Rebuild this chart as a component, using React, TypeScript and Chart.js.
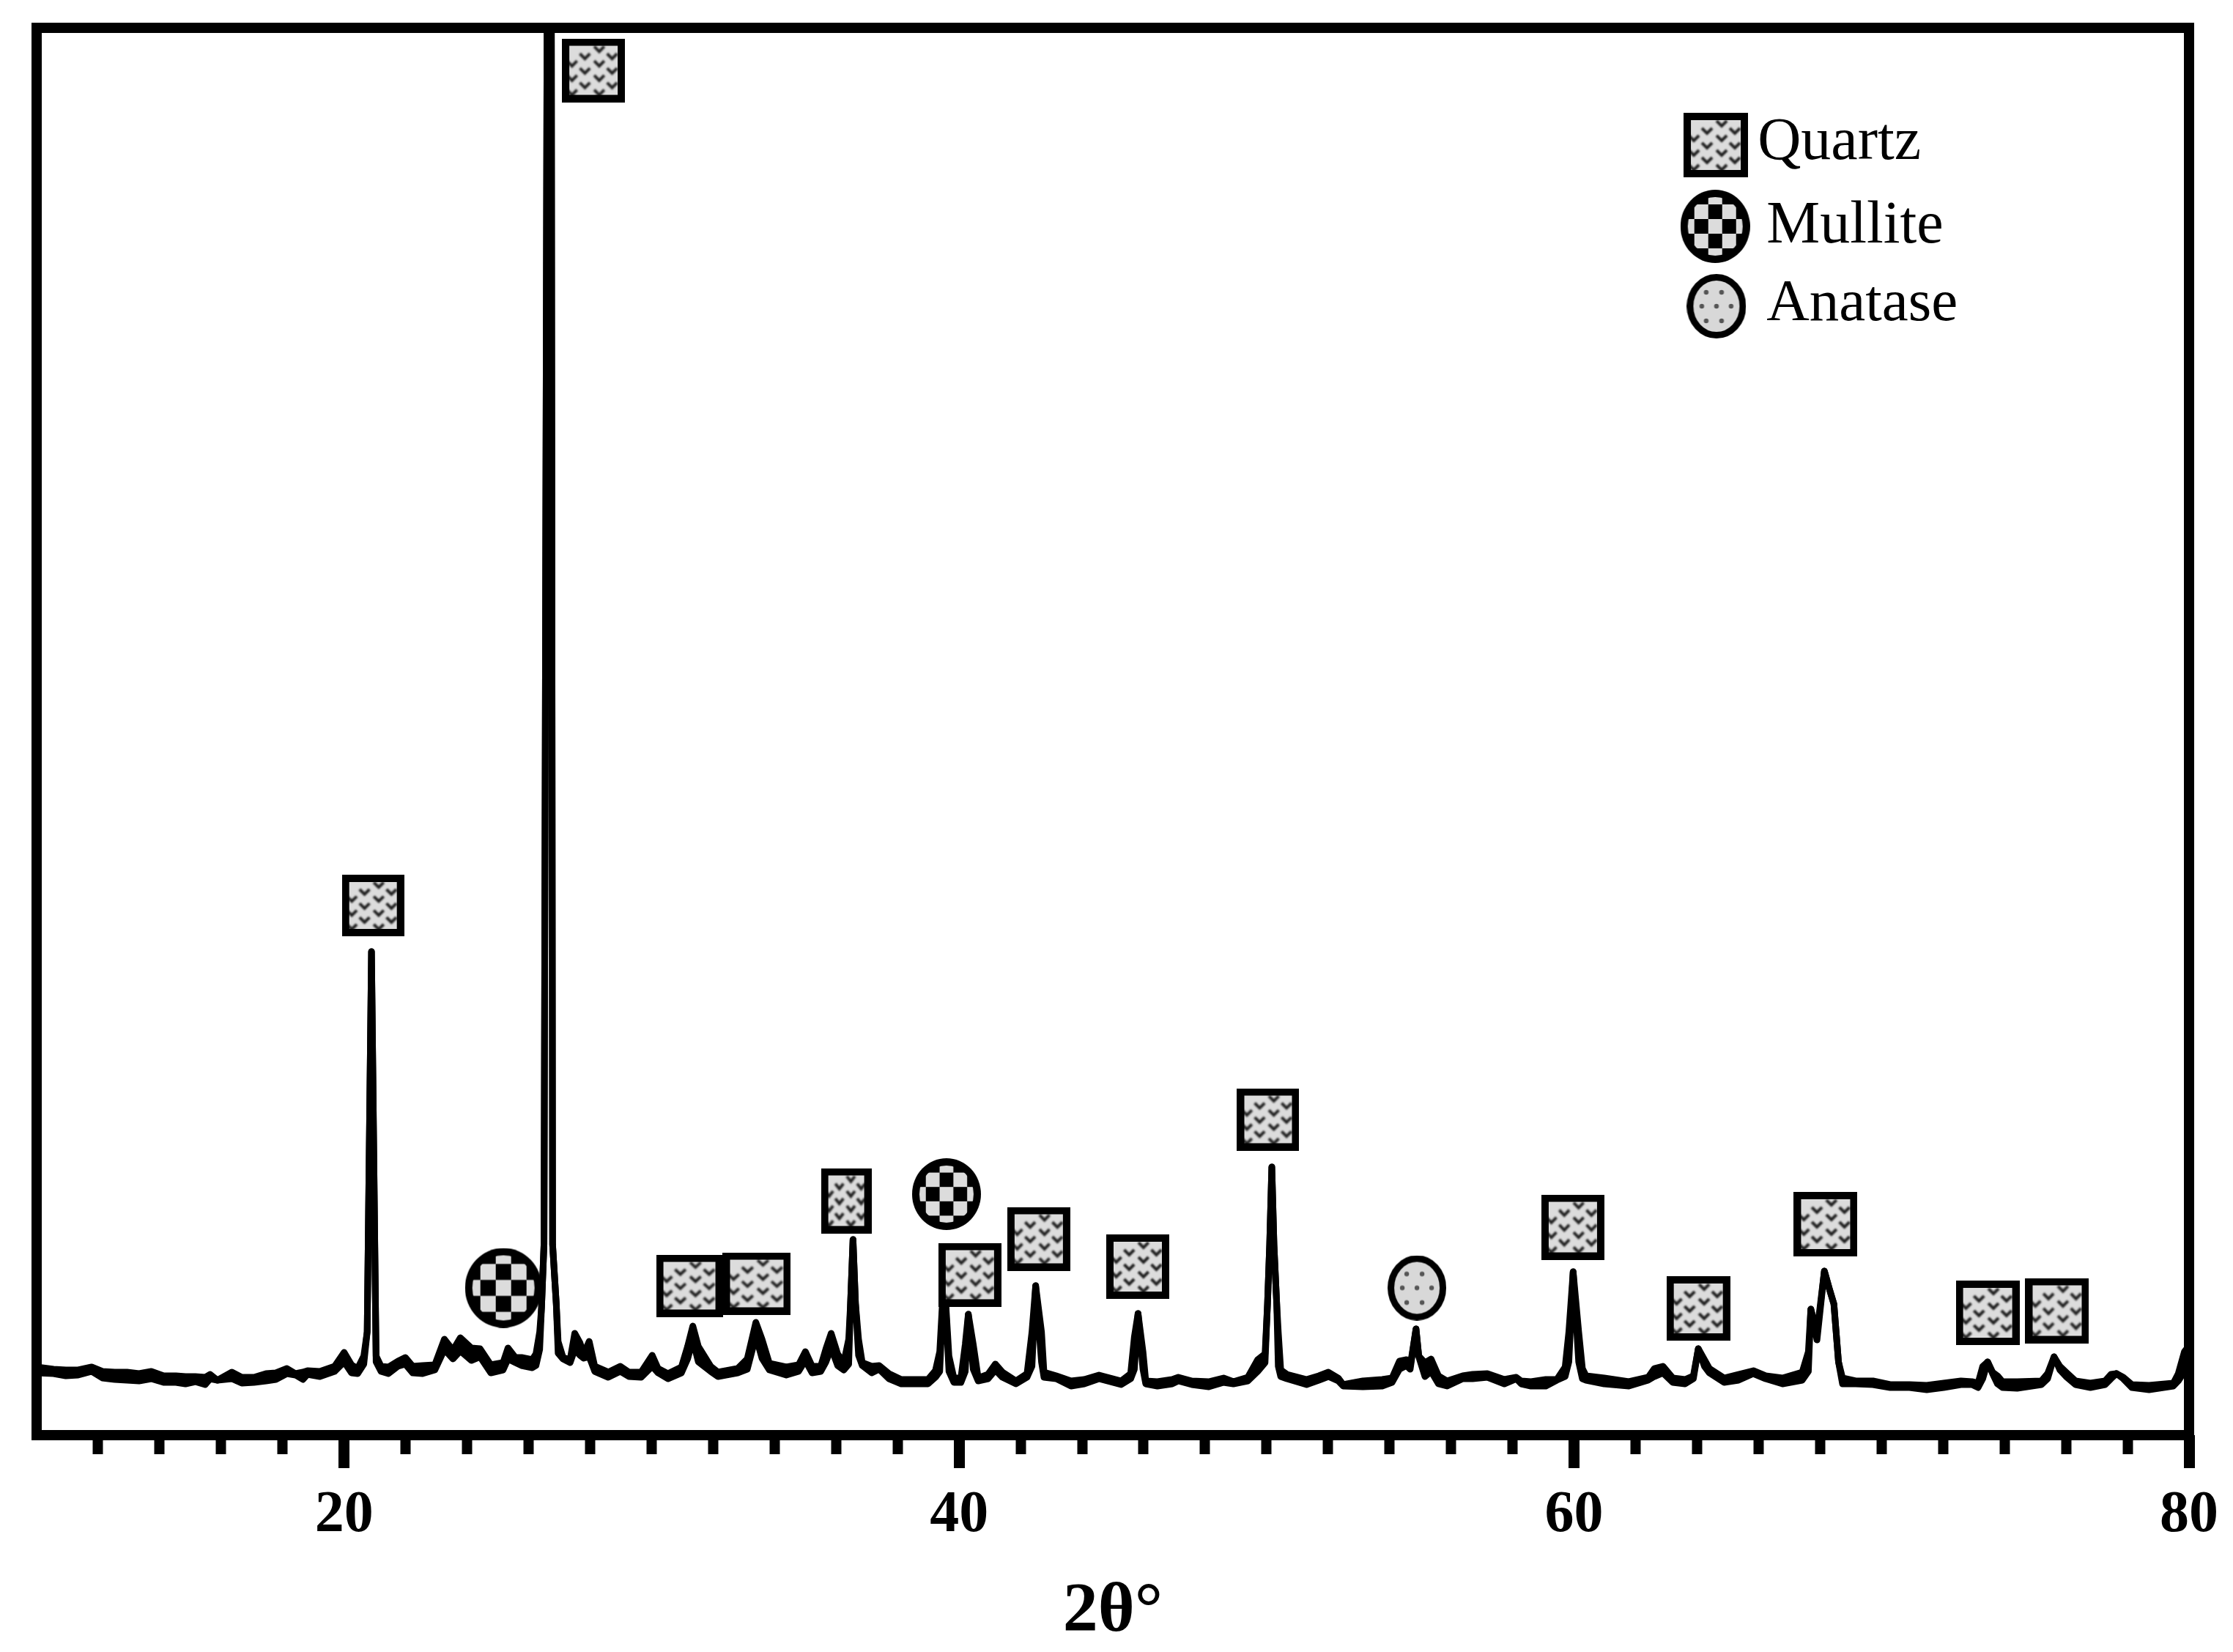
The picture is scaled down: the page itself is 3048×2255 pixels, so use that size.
import React, { useEffect, useRef } from "react";
import { Chart, registerables } from "chart.js";

Chart.register(...registerables);

// 2-theta positions of the diffractogram trace (degrees)
const traceX = [
  10.0, 10.55, 10.95, 11.35, 11.79, 12.14, 12.54, 12.94, 13.33, 13.73,
  14.13, 14.53, 14.84, 15.16, 15.48, 15.64, 15.88, 16.35, 16.67, 17.07,
  17.46, 17.78, 18.14, 18.42, 18.66, 18.81, 19.21, 19.69, 20.0, 20.24,
  20.44, 20.64, 20.75, 20.82, 20.89, 20.96, 21.04, 21.2, 21.44, 21.75,
  21.99, 22.23, 22.55, 22.95, 23.26, 23.54, 23.78, 24.14, 24.42, 24.77,
  25.17, 25.33, 25.57, 25.77, 26.12, 26.24, 26.36, 26.42, 26.5, 26.6,
  26.74, 26.78, 26.9, 26.96, 27.12, 27.35, 27.5, 27.67, 27.79, 27.97,
  28.15, 28.59, 28.98, 29.26, 29.66, 30.02, 30.21, 30.53, 30.97, 31.17,
  31.34, 31.52, 31.92, 32.16, 32.8, 33.11, 33.39, 33.59, 33.83, 34.38,
  34.78, 35.0, 35.22, 35.5, 35.67, 35.84, 36.05, 36.25, 36.41, 36.47,
  36.55, 36.63, 36.73, 36.85, 37.16, 37.4, 37.72, 38.12, 38.59, 38.99,
  39.23, 39.37, 39.51, 39.67, 39.83, 40.06, 40.2, 40.3, 40.46, 40.62,
  40.94, 41.18, 41.41, 41.85, 42.21, 42.37, 42.49, 42.68, 42.76, 43.16,
  43.64, 44.07, 44.55, 45.27, 45.58, 45.7, 45.82, 45.98, 46.07, 46.45,
  46.93, 47.13, 47.57, 48.12, 48.6, 48.92, 49.39, 49.71, 49.95, 50.03,
  50.1, 50.17, 50.24, 50.33, 50.38, 50.46, 50.66, 51.3, 51.7, 52.01,
  52.33, 52.49, 53.13, 53.76, 54.08, 54.32, 54.55, 54.67, 54.86, 54.95,
  55.15, 55.35, 55.59, 55.87, 56.38, 56.7, 57.18, 57.73, 58.12, 58.28,
  58.6, 59.08, 59.44, 59.71, 59.83, 59.97, 60.15, 60.27, 60.39, 60.98,
  61.78, 62.41, 62.61, 62.89, 63.21, 63.61, 63.88, 64.04, 64.24, 64.4,
  64.88, 65.35, 65.83, 66.23, 66.78, 67.42, 67.62, 67.7, 67.9, 68.14,
  68.3, 68.45, 68.6, 68.73, 69.16, 69.72, 70.28, 70.91, 71.47, 72.02,
  72.58, 72.94, 73.14, 73.29, 73.45, 73.61, 73.77, 73.93, 74.41, 75.2,
  75.4, 75.61, 75.8, 76.0, 76.31, 76.79, 77.27, 77.46, 77.64, 77.86,
  78.14, 78.7, 79.49, 79.65, 79.85, 80.0,
];

// Upper edge of the noisy trace band (intensity, a.u.)
const traceUpper = [
  93, 90, 89, 89, 93, 87, 86, 86, 84, 87,
  81, 81, 80, 80, 79, 83, 75, 86, 79, 79,
  84, 85, 91, 84, 86, 88, 87, 94, 113, 96,
  91, 108, 141, 400, 660, 400, 108, 94, 93, 101,
  106, 94, 95, 96, 131, 116, 133, 119, 118, 96,
  99, 119, 106, 106, 103, 111, 141, 174, 260, 1940,
  1940, 260, 179, 128, 106, 103, 139, 126, 111, 128,
  94, 86, 94, 86, 86, 109, 91, 84, 93, 121,
  149, 121, 94, 86, 91, 104, 154, 131, 98, 93,
  96, 114, 94, 94, 118, 139, 111, 99, 131, 180,
  267, 180, 131, 99, 94, 95, 84, 76, 76, 76,
  88, 114, 220, 108, 78, 78, 124, 165, 124, 78,
  83, 97, 86, 74, 84, 141, 204, 141, 86, 81,
  74, 76, 82, 74, 84, 134, 166, 114, 74, 73,
  76, 79, 74, 73, 78, 73, 79, 103, 111, 179,
  260, 366, 260, 179, 141, 89, 83, 76, 81, 86,
  78, 69, 74, 76, 78, 101, 103, 94, 145, 108,
  99, 104, 81, 74, 81, 83, 84, 76, 79, 74,
  73, 76, 76, 93, 141, 223, 141, 91, 81, 78,
  73, 79, 91, 94, 78, 76, 81, 118, 103, 91,
  78, 83, 88, 81, 78, 86, 114, 172, 140, 224,
  200, 179, 100, 78, 74, 74, 69, 69, 68, 71,
  74, 73, 71, 94, 100, 86, 81, 73, 73, 74,
  84, 107, 94, 86, 74, 71, 74, 83, 84, 79,
  69, 68, 71, 84, 114, 122,
];

// Lower edge of the noisy trace band (intensity, a.u.)
const traceLower = [
  85, 84, 81, 82, 87, 78, 76, 75, 74, 77,
  72, 72, 70, 73, 69, 77, 75, 77, 71, 72,
  74, 76, 84, 82, 76, 83, 80, 87, 100, 85,
  84, 97, 141, 400, 660, 400, 100, 87, 84, 94,
  97, 85, 84, 89, 117, 104, 115, 102, 107, 85,
  89, 104, 99, 95, 92, 95, 117, 174, 260, 1940,
  1940, 260, 179, 112, 104, 99, 117, 109, 105, 107,
  87, 79, 87, 80, 79, 94, 85, 77, 85, 104,
  130, 100, 87, 80, 85, 90, 135, 105, 89, 82,
  87, 102, 85, 87, 100, 119, 95, 89, 97, 180,
  267, 180, 109, 95, 85, 90, 77, 70, 70, 70,
  79, 87, 220, 87, 72, 72, 87, 165, 90, 74,
  77, 89, 79, 70, 79, 94, 204, 100, 79, 77,
  67, 70, 77, 69, 77, 90, 166, 90, 70, 67,
  70, 74, 69, 66, 72, 70, 74, 87, 99, 179,
  260, 366, 260, 179, 94, 80, 77, 69, 75, 80,
  74, 67, 66, 67, 72, 90, 95, 90, 145, 107,
  80, 87, 70, 67, 77, 77, 79, 70, 77, 70,
  67, 67, 75, 80, 100, 223, 100, 77, 75, 70,
  67, 75, 80, 85, 72, 70, 77, 118, 94, 85,
  72, 75, 84, 77, 70, 75, 87, 172, 130, 224,
  200, 179, 100, 70, 70, 69, 65, 65, 62, 65,
  69, 69, 65, 77, 100, 84, 70, 65, 64, 69,
  77, 107, 89, 80, 69, 65, 69, 77, 84, 77,
  65, 62, 67, 74, 87, 122,
];

// Phase markers (peak labels and legend keys), in data coordinates
const quartzX = [28.11, 20.94, 31.23, 33.42, 36.33, 40.35, 42.59, 45.81, 50.05, 59.96, 64.04, 68.18, 73.45, 75.71, 64.61];
const quartzY = [1863, 723, 204, 207, 320, 219, 268, 230, 431, 284, 173, 288, 167, 170, 1761];
const quartzW = [86, 85, 91, 93, 69, 86, 86, 86, 85, 86, 87, 87, 87, 87, 88];
const quartzH = [87, 84, 85, 85, 89, 87, 87, 88, 85, 89, 88, 88, 88, 89, 88];

const mulliteX = [25.18, 39.59, 64.59];
const mulliteY = [201, 329, 1650];
const mulliteW = [105, 94, 95];
const mulliteH = [109, 98, 100];

const anataseX = [54.89, 64.63];
const anataseY = [201, 1541];
const anataseW = [80, 81];
const anataseH = [89, 88];

const legendLabels = ["Quartz", "Mullite", "Anatase"];
const legendLabelX = [65.97, 66.26, 66.26];
const legendLabelY = [1742, 1628, 1522];
const legendLabelFont = [82, 82, 81];

const majorTicks = [20, 40, 60, 80];
const minorTicks = [12, 14, 16, 18, 22, 24, 26, 28, 30, 32, 34, 36, 38, 42, 44, 46, 48, 50, 52, 54, 56, 58, 62, 64, 66, 68, 70, 72, 74, 76, 78];
const xTitle = "2θ°";

const SERIF = "'Liberation Serif', 'Times New Roman', serif";

function mk(w: number, h: number) {
  const c = document.createElement("canvas");
  c.width = w;
  c.height = h;
  const g = c.getContext("2d")!;
  g.filter = "blur(0.8px)";
  return { c, g };
}

function quartzIcon(w: number, h: number) {
  const { c, g } = mk(w, h);
  const sx = w / 88;
  const sy = h / 88;
  g.fillStyle = "#dcdcdc";
  g.fillRect(0, 0, w, h);
  g.strokeStyle = "#222";
  g.lineWidth = 4;
  const cols = [
    { x: 14, ys: [34, 54, 74] },
    { x: 32, ys: [24, 44, 64] },
    { x: 52, ys: [14, 34, 54, 74] },
    { x: 70, ys: [24, 44, 64] },
  ];
  for (const col of cols) {
    for (const y of col.ys) {
      const cx = col.x * sx;
      const cy = y * sy;
      g.beginPath();
      g.moveTo(cx - 7 * sx, cy - 3 * sy);
      g.lineTo(cx, cy + 4 * sy);
      g.lineTo(cx + 7 * sx, cy - 3 * sy);
      g.stroke();
    }
  }
  g.filter = "none";
  g.strokeStyle = "#000";
  g.lineWidth = 10;
  g.strokeRect(5, 5, w - 10, h - 10);
  return c;
}

function mulliteIcon(w: number, h: number) {
  const { c, g } = mk(w, h);
  g.filter = "none";
  g.fillStyle = "#000";
  g.beginPath();
  g.ellipse(w / 2, h / 2, w / 2, h / 2, 0, 0, Math.PI * 2);
  g.fill();
  g.save();
  g.beginPath();
  g.ellipse(w / 2, h / 2, w / 2 - 10, h / 2 - 10, 0, 0, Math.PI * 2);
  g.clip();
  const cw = w / 5;
  const ch = h / 5;
  g.fillStyle = "#dcdcdc";
  for (let r = -3; r <= 3; r++) {
    for (let q = -3; q <= 3; q++) {
      if ((r + q + 6) % 2 === 0) {
        g.fillRect(w / 2 + (q - 0.5) * cw, h / 2 + (r - 0.5) * ch, cw, ch);
      }
    }
  }
  g.restore();
  return c;
}

function anataseIcon(w: number, h: number) {
  const { c, g } = mk(w, h);
  g.filter = "none";
  g.fillStyle = "#d8d8d8";
  g.strokeStyle = "#000";
  g.lineWidth = 9;
  g.beginPath();
  g.ellipse(w / 2, h / 2, w / 2 - 4.5, h / 2 - 4.5, 0, 0, Math.PI * 2);
  g.fill();
  g.stroke();
  g.fillStyle = "#555";
  const dots = [[-14, -19], [7, -19], [-20, 0], [0, 0], [20, 0], [-14, 20], [7, 20]];
  for (const [dx, dy] of dots) {
    g.beginPath();
    g.arc(w / 2 + dx, h / 2 + dy, 3.2, 0, Math.PI * 2);
    g.fill();
  }
  return c;
}

const framePlugin = {
  id: "frameAndLegendText",
  afterDraw(chart: any) {
    const { ctx, chartArea: a, scales } = chart;
    ctx.save();
    ctx.strokeStyle = "#000";
    ctx.lineWidth = 14;
    ctx.strokeRect(a.left, a.top, a.right - a.left, a.bottom - a.top);
    ctx.fillStyle = "#000";
    ctx.textAlign = "left";
    ctx.textBaseline = "alphabetic";
    legendLabels.forEach((t, i) => {
      ctx.font = `${legendLabelFont[i]}px ${SERIF}`;
      ctx.fillText(t, scales.x.getPixelForValue(legendLabelX[i]), scales.y.getPixelForValue(legendLabelY[i]));
    });
    ctx.restore();
  },
};

export default function App() {
  const ref = useRef<HTMLCanvasElement | null>(null);

  useEffect(() => {
    const quartzIcons = quartzW.map((w, i) => quartzIcon(w, quartzH[i]));
    const mulliteIcons = mulliteW.map((w, i) => mulliteIcon(w, mulliteH[i]));
    const anataseIcons = anataseW.map((w, i) => anataseIcon(w, anataseH[i]));
    const xy = (xs: number[], ys: number[]) => xs.map((x, i) => ({ x, y: ys[i] }));
    const lineStyle = {
      borderColor: "#000",
      backgroundColor: "#000",
      borderWidth: 9,
      borderJoinStyle: "round" as const,
      borderCapStyle: "round" as const,
      pointRadius: 0,
      tension: 0,
      order: 5,
    };
    const markerStyle = (icons: HTMLCanvasElement[]) => ({
      type: "scatter" as const,
      showLine: false,
      order: 0,
      clip: false,
      pointRadius: 10,
      pointStyle: (c: any) => icons[c.dataIndex],
    });

    const chart = new Chart(ref.current!, {
      type: "line",
      data: {
        datasets: [
          { label: "upper", data: xy(traceX, traceUpper), fill: false, ...lineStyle },
          { label: "lower", data: xy(traceX, traceLower), fill: "-1", ...lineStyle },
          { label: "Quartz", data: xy(quartzX, quartzY), ...markerStyle(quartzIcons) },
          { label: "Mullite", data: xy(mulliteX, mulliteY), ...markerStyle(mulliteIcons) },
          { label: "Anatase", data: xy(anataseX, anataseY), ...markerStyle(anataseIcons) },
        ] as any,
      },
      options: {
        animation: false,
        responsive: false,
        devicePixelRatio: 1,
        layout: { padding: { left: 50, right: 60, top: 38, bottom: 0 } },
        plugins: { legend: { display: false }, tooltip: { enabled: false } },
        scales: {
          x: {
            type: "linear",
            position: "bottom",
            min: 10,
            max: 80,
            afterBuildTicks: (s: any) => {
              s.ticks = majorTicks.map((value) => ({ value }));
            },
            afterFit: (s: any) => {
              s.height = 296;
            },
            border: { display: false },
            grid: { drawOnChartArea: false, drawTicks: true, tickLength: 45, tickWidth: 15, tickColor: "#000" },
            ticks: {
              autoSkip: false,
              maxRotation: 0,
              minRotation: 0,
              padding: 17,
              color: "#000",
              font: { family: SERIF, size: 80, weight: "bold" },
            },
            title: {
              display: true,
              text: xTitle,
              color: "#000",
              font: { family: SERIF, size: 96, weight: "bold" },
              padding: { top: 0, bottom: -4 },
            },
          },
          xMinor: {
            type: "linear",
            axis: "x",
            position: { y: 0 },
            min: 10,
            max: 80,
            afterBuildTicks: (s: any) => {
              s.ticks = minorTicks.map((value) => ({ value }));
            },
            border: { display: false },
            grid: { drawOnChartArea: false, drawTicks: true, tickLength: 26, tickWidth: 14, tickColor: "#000" },
            ticks: { display: false, autoSkip: false },
          },
          y: { type: "linear", display: false, min: 0, max: 1921 },
        },
      } as any,
      plugins: [framePlugin],
    });
    return () => chart.destroy();
  }, []);

  return (
    <canvas
      ref={ref}
      width={3048}
      height={2255}
      style={{ position: "fixed", left: 0, top: 0, width: 3048, height: 2255, display: "block", background: "#fff" }}
    />
  );
}
